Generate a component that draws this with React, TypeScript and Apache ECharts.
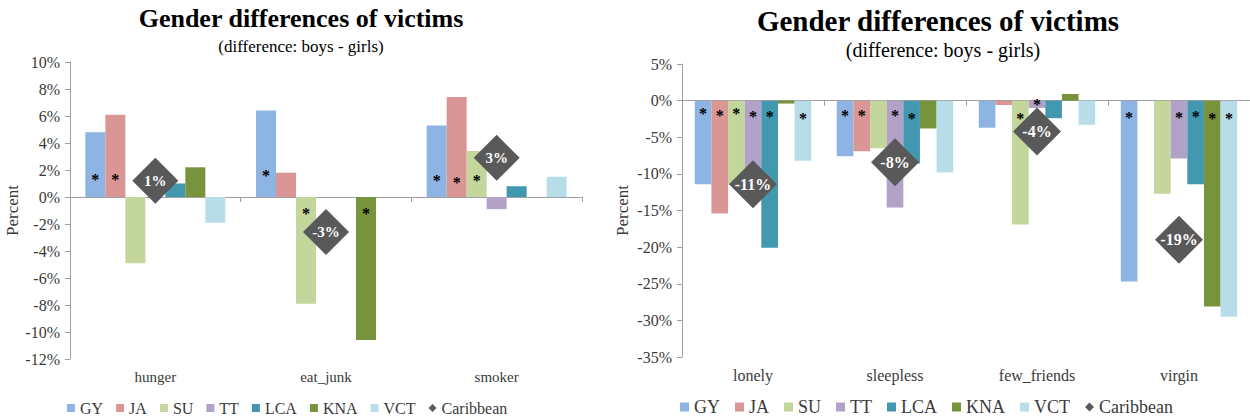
import React, { useEffect, useRef } from "react";
import * as echarts from "echarts";

const COUNTRIES = ["GY", "JA", "SU", "TT", "LCA", "KNA", "VCT"];
const COLORS = ["#8EB4E3", "#DA9694", "#C3D69B", "#B3A2C7", "#4198AF", "#77933C", "#B7DEE8"];
const CARIB_COLOR = "#595959";

// Left chart
const leftCategories = ["hunger", "eat_junk", "smoker"];
const leftValues: number[][] = [
  [4.8, 6.4, 5.3], // GY
  [6.1, 1.8, 7.4], // JA
  [-4.9, -7.9, 3.4], // SU
  [0, 0, -0.9], // TT
  [1.0, 0, 0.8], // LCA
  [2.2, -10.6, 0], // KNA
  [-1.9, 0, 1.5], // VCT
];
const leftCaribbean = [1.2, -2.6, 2.9];
// vertical position (in %) of significance asterisks, null = none
const leftStars: (number | null)[][] = [
  [1.6, 1.9, 1.5],
  [1.6, null, 1.4],
  [null, -0.9, 1.5],
  [null, null, null],
  [null, null, null],
  [null, -0.9, null],
  [null, null, null],
];
const leftTicks = { min: -12, max: 10, interval: 2 };

// Right chart
const rightCategories = ["lonely", "sleepless", "few_friends", "virgin"];
const rightValues: number[][] = [
  [-11.4, -7.6, -3.7, -24.7], // GY
  [-15.4, -6.9, -0.6, 0], // JA
  [-11.5, -6.5, -16.9, -12.7], // SU
  [-12.0, -14.6, -1.0, -7.9], // TT
  [-20.1, -8.6, -2.4, -11.4], // LCA
  [-0.4, -3.8, 0.9, -28.1], // KNA
  [-8.2, -9.8, -3.3, -29.5], // VCT
];
const rightCaribbean = [-11.4, -8.4, -4.2, -19.0];
const rightStars: (number | null)[][] = [
  [-1.2, -1.5, null, -1.7],
  [-1.5, -1.5, null, null],
  [-1.2, null, -1.9, null],
  [-1.6, -1.5, 0, -1.7],
  [-1.6, -1.9, null, -1.6],
  [null, null, null, -1.9],
  [-1.9, null, null, -1.9],
];
const rightTicks = { min: -35, max: 5, interval: 5 };

const TITLE = "Gender differences of victims";
const SUBTITLE = "(difference: boys - girls)";
const Y_NAME = "Percent";
const LEGEND_NAMES = [...COUNTRIES, "Caribbean"];

const SERIF = "Liberation Serif, Times New Roman, serif";

function buildSeries(
  cats: string[],
  values: number[][],
  stars: (number | null)[][],
  carib: number[],
  xIdx: number,
  yIdx: number,
  diamondSize: number,
  diamondFont: number
) {
  const series: any[] = COUNTRIES.map((c, i) => ({
    name: c,
    type: "bar",
    xAxisIndex: xIdx,
    yAxisIndex: yIdx,
    data: values[i],
    barGap: "0%",
    barCategoryGap: "18%",
    itemStyle: { color: COLORS[i] },
    z: 2,
    markPoint: {
      silent: true,
      symbol: "circle",
      symbolSize: 1,
      itemStyle: { color: "rgba(0,0,0,0)" },
      label: {
        show: true,
        position: "inside",
        formatter: "*",
        color: "#000",
        fontFamily: SERIF,
        fontSize: 16,
        fontWeight: "bold",
        offset: [0, 4],
      },
      data: stars[i]
        .map((v, k) => (v === null ? null : { coord: [cats[k], v] }))
        .filter((d) => d !== null),
    },
  }));
  series.push({
    name: "Caribbean",
    type: "scatter",
    xAxisIndex: xIdx,
    yAxisIndex: yIdx,
    data: carib,
    symbol: "diamond",
    symbolSize: diamondSize,
    itemStyle: { color: CARIB_COLOR, opacity: 1 },
    z: 5,
    label: {
      show: true,
      position: "inside",
      formatter: (p: any) => `${Math.round(p.value)}%`,
      color: "#fff",
      fontFamily: SERIF,
      fontSize: diamondFont,
      fontWeight: "bold",
    },
  });
  return series;
}

export default function App() {
  const ref = useRef<HTMLDivElement>(null);
  useEffect(() => {
    if (!ref.current) return;
    const chart = echarts.init(ref.current, undefined, { renderer: "svg" });
    const axisLineColor = "#A0A0A0";
    const textColor = "#3a3a3a";

    const zeroAxis = (gridIndex: number, cats: string[]) => ({
      type: "category",
      gridIndex,
      data: cats,
      position: "top",
      axisLine: { show: true, onZero: true, lineStyle: { color: axisLineColor, width: 1 } },
      axisTick: { show: true, inside: true, length: 5, lineStyle: { color: axisLineColor } },
      axisLabel: { show: false },
      splitLine: { show: false },
    });
    const labelAxis = (gridIndex: number, cats: string[], fontSize: number, margin: number) => ({
      type: "category",
      gridIndex,
      data: cats,
      position: "bottom",
      axisLine: { show: false, onZero: false },
      axisTick: { show: false },
      axisLabel: { show: true, color: textColor, fontFamily: SERIF, fontSize, margin },
      splitLine: { show: false },
    });
    const valueAxis = (gridIndex: number, t: any, nameGap: number, nameSize: number) => ({
      type: "value",
      gridIndex,
      min: t.min,
      max: t.max,
      interval: t.interval,
      name: Y_NAME,
      nameLocation: "middle",
      nameGap,
      nameRotate: 90,
      nameTextStyle: { color: textColor, fontFamily: SERIF, fontSize: nameSize },
      axisLine: { show: true, lineStyle: { color: axisLineColor } },
      axisTick: { show: true, length: 5, lineStyle: { color: axisLineColor } },
      axisLabel: { color: textColor, fontFamily: SERIF, fontSize: 16, margin: 10, formatter: "{value}%" },
      splitLine: { show: false },
    });

    const legend = (left: number, top: number, fontSize: number, size: number, gap: number) => ({
      left,
      top,
      orient: "horizontal",
      padding: 0,
      itemWidth: size,
      itemHeight: size,
      itemGap: gap,
      textStyle: { color: textColor, fontFamily: SERIF, fontSize },
      data: LEGEND_NAMES.map((n) => (n === "Caribbean" ? { name: n, icon: "diamond" } : { name: n, icon: "rect" })),
      selectedMode: false,
    });

    const titleText = (x: number, y: number, text: string, size: number, bold: boolean) => ({
      type: "text",
      x,
      y,
      style: {
        text,
        fill: "#000",
        fontFamily: SERIF,
        fontSize: size,
        fontWeight: bold ? "bold" : "normal",
        textAlign: "center",
        textVerticalAlign: "middle",
        verticalAlign: "middle",
      },
    });

    chart.setOption({
      animation: false,
      backgroundColor: "#fff",
      grid: [
        { left: 70, right: 1250 - 582, top: 62, bottom: 419 - 359 },
        { left: 682, right: -3, top: 64, bottom: 419 - 357 },
      ],
      xAxis: [
        zeroAxis(0, leftCategories),
        labelAxis(0, leftCategories, 15, 10),
        zeroAxis(1, rightCategories),
        labelAxis(1, rightCategories, 16, 10),
      ],
      yAxis: [valueAxis(0, leftTicks, 42, 17), valueAxis(1, rightTicks, 51, 17)],
      legend: [legend(67, 400, 16, 8, 13), legend(680, 398, 18, 9, 15)],
      graphic: [
        titleText(301, 18, TITLE, 26, true),
        titleText(301, 46, SUBTITLE, 17, false),
        titleText(938, 21, TITLE, 29, true),
        titleText(943, 50, SUBTITLE, 20, false),
      ],
      series: [
        ...buildSeries(leftCategories, leftValues, leftStars, leftCaribbean, 0, 0, 46, 15),
        ...buildSeries(rightCategories, rightValues, rightStars, rightCaribbean, 2, 1, 48, 16),
      ],
    });
    return () => chart.dispose();
  }, []);
  return (
    <div
      ref={ref}
      style={{ position: "fixed", left: 0, top: 0, width: 1250, height: 419, background: "#fff" }}
    />
  );
}
